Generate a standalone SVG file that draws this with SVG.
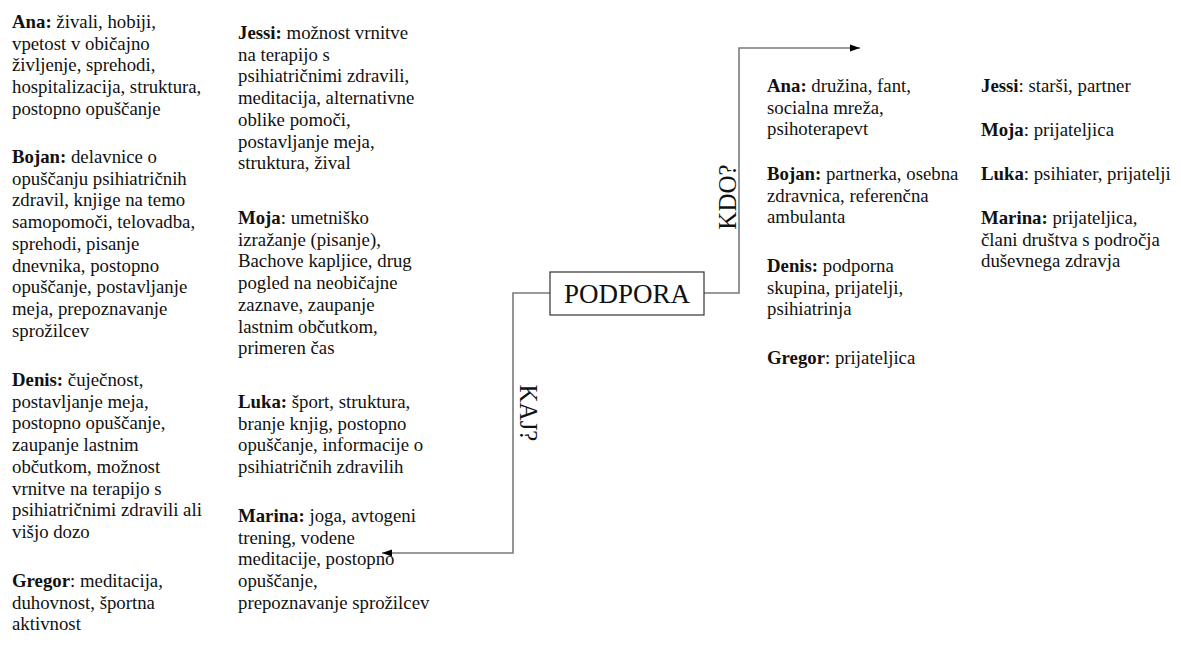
<svg xmlns="http://www.w3.org/2000/svg" width="1181" height="650" viewBox="0 0 1181 650">
<style>
.t{font-family:"Liberation Serif","Times New Roman",serif;font-size:18.8px;fill:#111}
.b{font-weight:bold}
.lbl{font-family:"Liberation Serif","Times New Roman",serif;font-size:25px;fill:#111}
.conn{fill:none;stroke:#7a7a7a;stroke-width:1.6}
</style>
<defs>
<marker id="arr" markerWidth="10" markerHeight="8" refX="10" refY="4" orient="auto" markerUnits="userSpaceOnUse">
<path d="M0,0.5 L10,4 L0,7.5 Z" fill="#000"/>
</marker>
</defs>
<rect width="1181" height="650" fill="#fff"/>
<g id="connectors">
<path class="conn" d="M704,293 H739 V48 H860" marker-end="url(#arr)"/>
<path class="conn" d="M550,293 H513 V553 H382" marker-end="url(#arr)"/>
</g>
<g id="podpora">
<rect x="550" y="272" width="154" height="43" fill="#fff" stroke="#333" stroke-width="1.2"/>
<text x="627" y="303" text-anchor="middle" style="font-family:'Liberation Serif','Times New Roman',serif;font-size:27px;fill:#111">PODPORA</text>
</g>
<g id="kdo"><text class="lbl" transform="translate(736,197) rotate(-90)" text-anchor="middle">KDO?</text></g>
<g id="kaj"><text class="lbl" transform="translate(520,413) rotate(90)" text-anchor="middle">KAJ?</text></g>
<g id="kaj-ana"><text class="t"><tspan x="12" y="28"><tspan class="b">Ana:</tspan> živali, hobiji,</tspan><tspan x="12" y="49.7">vpetost v običajno</tspan><tspan x="12" y="71.4">življenje, sprehodi,</tspan><tspan x="12" y="93.1">hospitalizacija, struktura,</tspan><tspan x="12" y="114.8">postopno opuščanje</tspan></text></g>
<g id="kaj-bojan"><text class="t"><tspan x="12" y="163"><tspan class="b">Bojan:</tspan> delavnice o</tspan><tspan x="12" y="184.7">opuščanju psihiatričnih</tspan><tspan x="12" y="206.4">zdravil, knjige na temo</tspan><tspan x="12" y="228.1">samopomoči, telovadba,</tspan><tspan x="12" y="249.8">sprehodi, pisanje</tspan><tspan x="12" y="271.5">dnevnika, postopno</tspan><tspan x="12" y="293.2">opuščanje, postavljanje</tspan><tspan x="12" y="314.9">meja, prepoznavanje</tspan><tspan x="12" y="336.6">sprožilcev</tspan></text></g>
<g id="kaj-denis"><text class="t"><tspan x="12" y="386"><tspan class="b">Denis:</tspan> čuječnost,</tspan><tspan x="12" y="407.7">postavljanje meja,</tspan><tspan x="12" y="429.4">postopno opuščanje,</tspan><tspan x="12" y="451.1">zaupanje lastnim</tspan><tspan x="12" y="472.8">občutkom, možnost</tspan><tspan x="12" y="494.5">vrnitve na terapijo s</tspan><tspan x="12" y="516.2">psihiatričnimi zdravili ali</tspan><tspan x="12" y="537.9">višjo dozo</tspan></text></g>
<g id="kaj-gregor"><text class="t"><tspan x="12" y="587"><tspan class="b">Gregor</tspan>: meditacija,</tspan><tspan x="12" y="608.7">duhovnost, športna</tspan><tspan x="12" y="630.4">aktivnost</tspan></text></g>
<g id="kaj-jessi"><text class="t"><tspan x="238" y="39"><tspan class="b">Jessi:</tspan> možnost vrnitve</tspan><tspan x="238" y="60.7">na terapijo s</tspan><tspan x="238" y="82.4">psihiatričnimi zdravili,</tspan><tspan x="238" y="104.1">meditacija, alternativne</tspan><tspan x="238" y="125.8">oblike pomoči,</tspan><tspan x="238" y="147.5">postavljanje meja,</tspan><tspan x="238" y="169.2">struktura, žival</tspan></text></g>
<g id="kaj-moja"><text class="t"><tspan x="238" y="224"><tspan class="b">Moja</tspan>: umetniško</tspan><tspan x="238" y="245.7">izražanje (pisanje),</tspan><tspan x="238" y="267.4">Bachove kapljice, drug</tspan><tspan x="238" y="289.1">pogled na neobičajne</tspan><tspan x="238" y="310.8">zaznave, zaupanje</tspan><tspan x="238" y="332.5">lastnim občutkom,</tspan><tspan x="238" y="354.2">primeren čas</tspan></text></g>
<g id="kaj-luka"><text class="t"><tspan x="238" y="408"><tspan class="b">Luka:</tspan> šport, struktura,</tspan><tspan x="238" y="429.7">branje knjig, postopno</tspan><tspan x="238" y="451.4">opuščanje, informacije o</tspan><tspan x="238" y="473.1">psihiatričnih zdravilih</tspan></text></g>
<g id="kaj-marina"><text class="t"><tspan x="238" y="522"><tspan class="b">Marina:</tspan> joga, avtogeni</tspan><tspan x="238" y="543.7">trening, vodene</tspan><tspan x="238" y="565.4">meditacije, postopno</tspan><tspan x="238" y="587.1">opuščanje,</tspan><tspan x="238" y="608.8">prepoznavanje sprožilcev</tspan></text></g>
<g id="kdo-ana"><text class="t"><tspan x="767" y="92"><tspan class="b">Ana:</tspan> družina, fant,</tspan><tspan x="767" y="113.7">socialna mreža,</tspan><tspan x="767" y="135.4">psihoterapevt</tspan></text></g>
<g id="kdo-bojan"><text class="t"><tspan x="767" y="180"><tspan class="b">Bojan:</tspan> partnerka, osebna</tspan><tspan x="767" y="201.7">zdravnica, referenčna</tspan><tspan x="767" y="223.4">ambulanta</tspan></text></g>
<g id="kdo-denis"><text class="t"><tspan x="767" y="272"><tspan class="b">Denis:</tspan> podporna</tspan><tspan x="767" y="293.7">skupina, prijatelji,</tspan><tspan x="767" y="315.4">psihiatrinja</tspan></text></g>
<g id="kdo-gregor"><text class="t"><tspan x="767" y="364"><tspan class="b">Gregor</tspan>: prijateljica</tspan></text></g>
<g id="kdo-jessi"><text class="t"><tspan x="981" y="92"><tspan class="b">Jessi</tspan>: starši, partner</tspan></text></g>
<g id="kdo-moja"><text class="t"><tspan x="981" y="136"><tspan class="b">Moja</tspan>: prijateljica</tspan></text></g>
<g id="kdo-luka"><text class="t"><tspan x="981" y="180"><tspan class="b">Luka</tspan>: psihiater, prijatelji</tspan></text></g>
<g id="kdo-marina"><text class="t"><tspan x="981" y="224"><tspan class="b">Marina:</tspan> prijateljica,</tspan><tspan x="981" y="245.7">člani društva s področja</tspan><tspan x="981" y="267.4">duševnega zdravja</tspan></text></g>
</svg>
